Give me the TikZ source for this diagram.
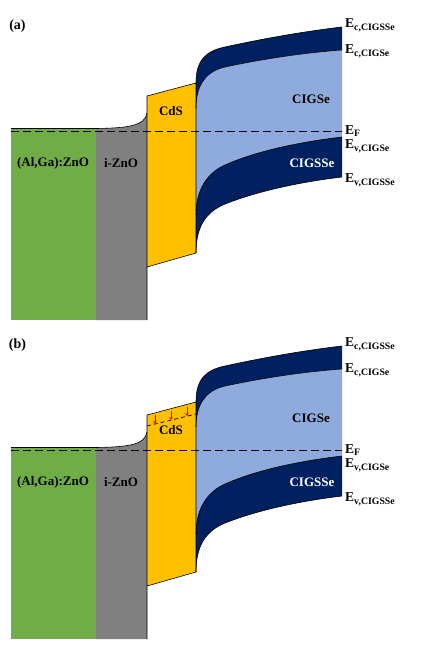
\documentclass[tikz,border=0pt]{standalone}
\usepackage{fontspec}
\setmainfont{Liberation Serif}
\usetikzlibrary{arrows.meta}
\definecolor{azo}{HTML}{70AD47}
\definecolor{izno}{HTML}{808080}
\definecolor{cdscol}{HTML}{FFC000}
\definecolor{cigsecol}{HTML}{8FAADC}
\definecolor{navy}{HTML}{002060}
\tikzset{
  lbl/.style={font=\fontsize{13}{15}\selectfont\bfseries, inner sep=0pt},
  elbl/.style={font=\fontsize{13.5}{15}\selectfont\bfseries, inner sep=0pt, anchor=base west},
  panellbl/.style={font=\fontsize{14}{16}\selectfont\bfseries, inner sep=0pt},
  outline/.style={draw=black, line width=0.6pt},
  fermi/.style={draw=black, dash pattern=on 8pt off 4pt, line width=0.8pt},
  trapline/.style={draw=black, dash pattern=on 4pt off 3pt, line width=0.7pt},
  traparrow/.style={draw=red, line width=0.9pt, -{Stealth[length=3pt,width=3.5pt]}},
}
\newcommand\esub[2][3pt]{E\raisebox{-#1}{\fontsize{9.8}{10}\selectfont #2}}
\newcommand\bandpanel[2]{%
  % layers
  \fill[azo] (11,128.5) rectangle (96,320);
  \fill[izno] (96,128.5) .. controls (128,128) and (145,126) .. (147,113) -- (147,320) -- (96,320) -- cycle;
  \fill[cdscol] (147,96) -- (196,83) -- (196,253) -- (147,267) -- cycle;
  % upper navy band
  \fill[navy] (196,83) .. controls (196,60) and (206,51) .. (225,47) .. controls (262,39) and (300,32) .. (342,27)
     -- (342,50) .. controls (300,53) and (258,60) .. (225,67) .. controls (207,71) and (196,84) .. (196,108) -- cycle;
  % CIGSe
  \fill[cigsecol] (196,108) .. controls (196,84) and (207,71) .. (225,67) .. controls (258,60) and (300,53) .. (342,50)
     -- (342,137) .. controls (300,142) and (257,150.8) .. (225,165) .. controls (207,173) and (196,190) .. (196,215) -- cycle;
  % lower navy band
  \fill[navy] (196,215) .. controls (196,190) and (207,173) .. (225,165) .. controls (257,150.8) and (300,142) .. (342,137)
     -- (342,177) .. controls (300,182) and (258,191) .. (225,204) .. controls (207,211.5) and (196,225) .. (196,253) -- cycle;
  % outlines
  \draw[outline] (11,128.5) -- (96,128.5) .. controls (128,128) and (145,126) .. (147,113);
  \draw[outline] (147,320) -- (147,96) -- (196,83) -- (196,253) -- (147,267);
  \draw[outline] (196,83) .. controls (196,60) and (206,51) .. (225,47) .. controls (262,39) and (300,32) .. (342,27);
  \draw[outline] (196,108) .. controls (196,84) and (207,71) .. (225,67) .. controls (258,60) and (300,53) .. (342,50);
  \draw[outline] (196,215) .. controls (196,190) and (207,173) .. (225,165) .. controls (257,150.8) and (300,142) .. (342,137);
  \draw[outline] (196,253) .. controls (196,225) and (207,211.5) .. (225,204) .. controls (258,191) and (300,182) .. (342,177);
  % Fermi level
  \draw[fermi] (11,131) -- (342,131);
  % labels
  \node[panellbl] (#1-panel) at (17.5,26) {(#2)};
  \node[lbl] (#1-azo) at (53,163) {(Al,Ga):ZnO};
  \node[lbl] (#1-izno) at (121,163) {i-ZnO};
  \node[lbl] (#1-cds) at (171,111) {CdS};
  \node[lbl] (#1-cigse) at (311,99) {CIGSe};
  \node[lbl, text=white] (#1-cigsse) at (312,163) {CIGSSe};
  \node[elbl] (#1-ec1) at (345,27.3) {\esub{c,CIGSSe}};
  \node[elbl] (#1-ec2) at (345,53.3) {\esub{c,CIGSe}};
  \node[elbl] (#1-ef) at (345,134) {\esub[2.2pt]{F}};
  \node[elbl] (#1-ev1) at (345,148) {\esub{v,CIGSe}};
  \node[elbl] (#1-ev2) at (345,182.7) {\esub{v,CIGSSe}};
}
\begin{document}
\begin{tikzpicture}[x=1pt,y=-1pt]
  \useasboundingbox[fill=white] (0,0) rectangle (440,645);
  \begin{scope}
    \bandpanel{a}{a}
  \end{scope}
  \begin{scope}[yshift=-319pt]
    \bandpanel{b}{b}
    \draw[trapline] (147,107) -- (196,95);
    \coordinate (t1s) at (155,95.5); \coordinate (t1e) at (155,105);
    \coordinate (t2s) at (171,91.5); \coordinate (t2e) at (171,101);
    \coordinate (t3s) at (187,87.5); \coordinate (t3e) at (187,97);
    \draw[traparrow] (t1s) -- (t1e);
    \draw[traparrow] (t2s) -- (t2e);
    \draw[traparrow] (t3s) -- (t3e);
  \end{scope}
\end{tikzpicture}
\end{document}
